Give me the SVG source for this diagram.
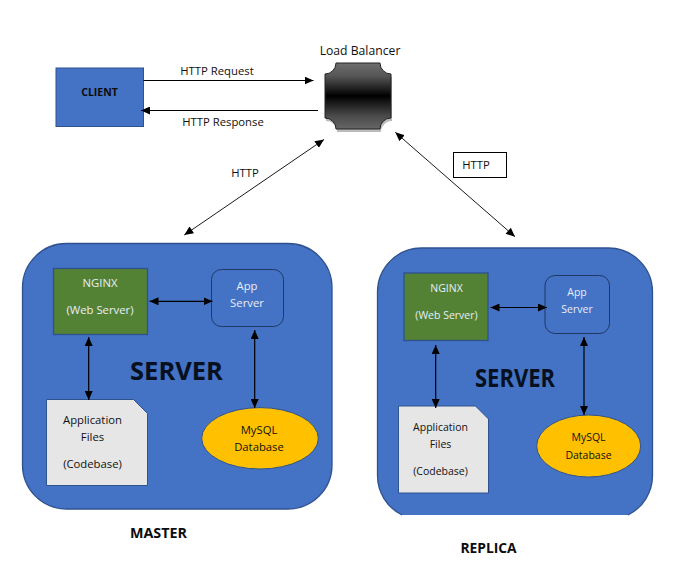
<svg xmlns="http://www.w3.org/2000/svg" width="688" height="571" viewBox="0 0 688 571">
<style>
text{font-family:"Open Sans","Noto Sans","Liberation Sans",sans-serif;font-size:11.3px;text-anchor:middle}
.k{fill:#111}
.w{fill:#e8eef8}
.s{font-size:10.5px}
.b{font-weight:700;fill:#0c0c0c;font-size:10.5px}
.big{font-size:25.500px;font-weight:700;fill:#06101f}
.lbl{font-weight:700;font-size:14.300px;fill:#0c0c0c}
.srv{fill:#4472c4;stroke:#2f528f;stroke-width:1.3}
.ng{fill:#548235;stroke:#2f528f;stroke-width:1.3}
.app{fill:#4472c4;stroke:#1f3864;stroke-width:1}
.doc{fill:#e7e6e6;stroke:#2f528f;stroke-width:1}
.db{fill:#ffc000;stroke:#2f528f;stroke-width:1}
.c{fill:none;stroke:#000;stroke-width:1.2;marker-start:url(#as);marker-end:url(#ae)}
.d{stroke-width:.9}
.o{fill:none;stroke:#000;stroke-width:1.2;marker-end:url(#ae)}
</style>
<defs>
<marker id="ae" markerUnits="userSpaceOnUse" markerWidth="10" markerHeight="8" refX="9" refY="4" orient="auto"><path d="M0 0L9 4L0 8z" fill="#000"/></marker>
<marker id="as" markerUnits="userSpaceOnUse" markerWidth="10" markerHeight="8" refX="0" refY="4" orient="auto"><path d="M9 0L0 4L9 8z" fill="#000"/></marker>
<linearGradient id="lbg" x1="0" y1="0" x2="0" y2="1"><stop offset="0" stop-color="#6e6e6e"/><stop offset=".2" stop-color="#555"/><stop offset=".5" stop-color="#000"/><stop offset=".8" stop-color="#4a4a4a"/><stop offset="1" stop-color="#666"/></linearGradient>
</defs>
<rect width="688" height="571" fill="#fff"/>
<g id="client"><rect x="56" y="68" width="87.5" height="58.5" fill="#4472c4" stroke="#2f528f" stroke-width="1"/><text class="b" x="99.500" y="95.500">CLIENT</text></g>
<g id="load-balancer"><text class="k" x="360" y="55" style="font-size:12.200px">Load Balancer</text>
<path d="M336 65H380A11 11 0 0 0 391 76V120A11 11 0 0 0 380 131H336A11 11 0 0 0 325 120V76A11 11 0 0 0 336 65Z" fill="#bbb" transform="translate(1,1)"/>
<path d="M336 63H380A11 11 0 0 0 391 74V118A11 11 0 0 0 380 129H336A11 11 0 0 0 325 118V74A11 11 0 0 0 336 63Z" fill="url(#lbg)" stroke="#222" stroke-width="1"/></g>
<g id="http-box"><rect x="453.500" y="152.500" width="53" height="25" fill="#fff" stroke="#000" stroke-width="1"/><text class="k" x="476" y="169">HTTP</text></g>
<g id="master">
<rect class="srv" x="22.500" y="243.500" width="309.500" height="265.500" rx="44"/>
<g id="master-nginx"><rect class="ng" x="53.500" y="268.500" width="94" height="66"/><text class="w" x="100" y="287">NGINX</text><text class="w" x="100" y="314">(Web Server)</text></g>
<g id="master-app"><rect class="app" x="211.500" y="269.500" width="72" height="57" rx="10"/><text class="w" x="247" y="290">App</text><text class="w" x="247" y="307">Server</text></g>
<g id="master-files"><path class="doc" d="M46.500 399.500H133.500L147.500 413.500V485.500H46.500Z"/><text class="k" x="92.500" y="424">Application</text><text class="k" x="92.500" y="441">Files</text><text class="k" x="92.500" y="468">(Codebase)</text></g>
<g id="master-db"><ellipse class="db" cx="260" cy="438.300" rx="58.300" ry="30.700"/><text class="k" x="259" y="434">MySQL</text><text class="k" x="259" y="451">Database</text></g>
<text class="big" x="176.500" y="380">SERVER</text>
</g>
<text class="lbl" x="158.500" y="538">MASTER</text>
<g id="replica">
<path class="srv" style="stroke:none" d="M402 515A44 44 0 0 1 377.500 475V292A44 44 0 0 1 421.500 248H608.500A44 44 0 0 1 652.500 292V475A44 44 0 0 1 628 515Z"/>
<path fill="none" stroke="#2f528f" stroke-width="1.300" d="M402 515A44 44 0 0 1 377.500 475V292A44 44 0 0 1 421.500 248H608.500A44 44 0 0 1 652.500 292V475A44 44 0 0 1 628 515"/>
<g id="replica-nginx"><rect class="ng" x="404" y="273" width="84" height="67.500"/><text class="w s" x="446.500" y="292">NGINX</text><text class="w s" x="446.500" y="319">(Web Server)</text></g>
<g id="replica-app"><rect class="app" x="545" y="275.500" width="64.500" height="58" rx="10"/><text class="w s" x="577" y="296">App</text><text class="w s" x="577" y="313">Server</text></g>
<g id="replica-files"><path class="doc" d="M398.500 406H475.500L488.500 419V493H398.500Z"/><text class="k s" x="440.500" y="431">Application</text><text class="k s" x="440.500" y="448">Files</text><text class="k s" x="440.500" y="475">(Codebase)</text></g>
<g id="replica-db"><ellipse class="db" cx="588.700" cy="446" rx="52" ry="31"/><text class="k s" x="588.500" y="441">MySQL</text><text class="k s" x="588.500" y="459">Database</text></g>
<text class="big" x="515" y="387" textLength="80" lengthAdjust="spacingAndGlyphs">SERVER</text>
</g>
<text class="lbl" x="488.500" y="553" style="font-size:13.800px">REPLICA</text>
<g id="connectors">
<path class="o" d="M143.500 80.500H313.500"/>
<path class="o" d="M318 110.500H141"/>
<path class="c d" d="M184.300 235L324 139.500"/>
<path class="c d" d="M515 236.700L395.300 132.300"/>
<path class="c" d="M149.500 301.300H212.500"/>
<path class="c" d="M88.700 337V400"/>
<path class="c" d="M254.700 330V408"/>
<path class="c" d="M490.500 307.500H547"/>
<path class="c" d="M435.700 345V408"/>
<path class="c" d="M584 337V415"/>
</g>
<text class="k" x="217" y="75">HTTP Request</text>
<text class="k" x="223" y="126">HTTP Response</text>
<text class="k" x="245" y="177">HTTP</text>
</svg>
